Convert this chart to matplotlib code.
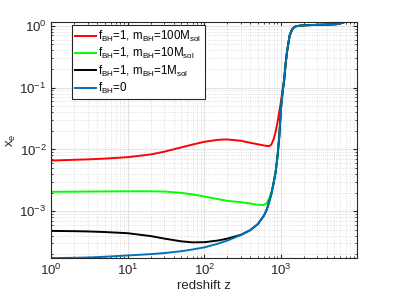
import numpy as np
import matplotlib
matplotlib.use('Agg')
import matplotlib.pyplot as plt
from matplotlib.ticker import LogLocator, NullFormatter

plt.rcParams.update({
    'font.family': 'Liberation Sans',
    'mathtext.fontset': 'custom',
    'mathtext.rm': 'Liberation Sans',
    'mathtext.it': 'Liberation Sans:italic',
    'font.size': 9.5,
})

# redshift grid
z = [1, 2, 3, 5, 10, 20, 30, 50, 70, 100, 150, 200, 300, 400, 500, 600, 650,
     700, 750, 800, 850, 900, 950, 1000, 1050, 1100, 1150, 1200, 1300, 1400,
     1500, 1600, 1800, 2000, 3000, 4000, 5000, 5500, 6000, 6500, 7000, 8000,
     10000]

xe_fbh0 = [1.74e-4, 1.76e-4, 1.78e-4, 1.83e-4, 1.92e-4, 2.02e-4, 2.10e-4,
           2.25e-4, 2.40e-4, 2.60e-4, 2.98e-4, 3.35e-4, 4.10e-4, 4.95e-4,
           6.2e-4, 8.5e-4, 1.05e-3, 1.4e-3, 1.9e-3, 2.8e-3, 4.2e-3, 7.5e-3,
           1.6e-2, 4.5e-2, 0.085, 0.13, 0.24, 0.38, 0.70, 0.88, 0.96, 0.99,
           1.01, 1.02, 1.04, 1.05, 1.06, 1.07, 1.10, 1.14, 1.16, 1.16, 1.16]

xe_m1 = [4.8e-4, 4.75e-4, 4.7e-4, 4.6e-4, 4.4e-4, 3.95e-4, 3.6e-4, 3.25e-4,
         3.13e-4, 3.15e-4, 3.35e-4, 3.6e-4, 4.15e-4, 4.97e-4, 6.2e-4, 8.5e-4,
         1.05e-3, 1.4e-3, 1.9e-3, 2.8e-3, 4.2e-3, 7.5e-3, 1.6e-2, 4.5e-2,
         0.085, 0.13, 0.24, 0.38, 0.70, 0.88, 0.96, 0.99, 1.01, 1.02, 1.04,
         1.05, 1.06, 1.07, 1.10, 1.14, 1.16, 1.16, 1.16]

xe_m10 = [2.06e-3, 2.07e-3, 2.08e-3, 2.09e-3, 2.10e-3, 2.10e-3, 2.08e-3,
          1.98e-3, 1.87e-3, 1.73e-3, 1.57e-3, 1.47e-3, 1.40e-3, 1.33e-3,
          1.27e-3, 1.26e-3, 1.35e-3, 1.6e-3, 2.0e-3, 2.9e-3, 4.3e-3, 7.6e-3,
          1.6e-2, 4.5e-2, 0.085, 0.13, 0.24, 0.38, 0.70, 0.88, 0.96, 0.99,
          1.01, 1.02, 1.04, 1.05, 1.06, 1.07, 1.10, 1.14, 1.16, 1.16, 1.16]

xe_m100 = [6.6e-3, 6.8e-3, 6.9e-3, 7.1e-3, 7.5e-3, 8.3e-3, 9.2e-3, 0.0108,
           0.0120, 0.0133, 0.0143, 0.0145, 0.0138, 0.0128, 0.0121, 0.0116,
           0.0114, 0.0113, 0.0120, 0.0145, 0.019, 0.027, 0.040, 0.060, 0.09,
           0.135, 0.24, 0.38, 0.70, 0.88, 0.96, 0.99, 1.01, 1.02, 1.04, 1.05,
           1.06, 1.07, 1.10, 1.14, 1.16, 1.16, 1.16]

labels = [r'f$_{\rm BH}$=1, m$_{\rm BH}$=100M$_{\rm sol}$',
          r'f$_{\rm BH}$=1, m$_{\rm BH}$=10M$_{\rm sol}$',
          r'f$_{\rm BH}$=1, m$_{\rm BH}$=1M$_{\rm sol}$',
          r'f$_{\rm BH}$=0']
colors = ['#ff0000', '#00ff00', '#000000', '#0072bd']

fig = plt.figure(figsize=(3.95, 2.96), dpi=100)
ax = fig.add_axes([0.130, 0.128, 0.775, 0.798])

for xe, c, lab in zip([xe_m100, xe_m10, xe_m1, xe_fbh0], colors, labels):
    ax.plot(z, xe, color=c, linewidth=1.4, label=lab)

ax.set_xscale('log')
ax.set_yscale('log')
ax.set_xlim(z[0], z[-1])
ax.set_ylim(min(xe_fbh0), max(xe_fbh0))
ax.set_xticks([1, 10, 100, 1000])
ax.set_yticks([1e-3, 1e-2, 1e-1, 1])
ax.xaxis.set_minor_locator(LogLocator(base=10, subs=np.arange(2, 10), numticks=20))
ax.yaxis.set_minor_locator(LogLocator(base=10, subs=np.arange(2, 10), numticks=20))
ax.xaxis.set_minor_formatter(NullFormatter())
ax.yaxis.set_minor_formatter(NullFormatter())

ax.grid(True, which='major', color='#e3e3e3', linewidth=0.8)
ax.grid(True, which='minor', color='#d6d6d6', linewidth=0.6, linestyle=':')
ax.set_axisbelow(True)
ax.tick_params(which='both', direction='in', top=True, right=True,
               colors='#262626', labelsize=9.5)
ax.tick_params(which='major', length=3)
ax.tick_params(which='minor', length=1.6)
for s in ax.spines.values():
    s.set_color('#262626')
    s.set_linewidth(0.8)

ax.set_xlabel('redshift z', color='#262626', labelpad=1)
ax.set_ylabel(r'x$_{\rm e}$', color='#262626', labelpad=1)

leg = ax.legend(loc='upper left', bbox_to_anchor=(0.067, 0.986),
                fontsize=8.3, frameon=True, fancybox=False, framealpha=1,
                edgecolor='#262626', handlelength=1.8, handletextpad=0.2,
                labelspacing=0.2, borderpad=0.3, borderaxespad=0)
leg.get_frame().set_linewidth(0.8)

fig.savefig('out.png', dpi=100)
